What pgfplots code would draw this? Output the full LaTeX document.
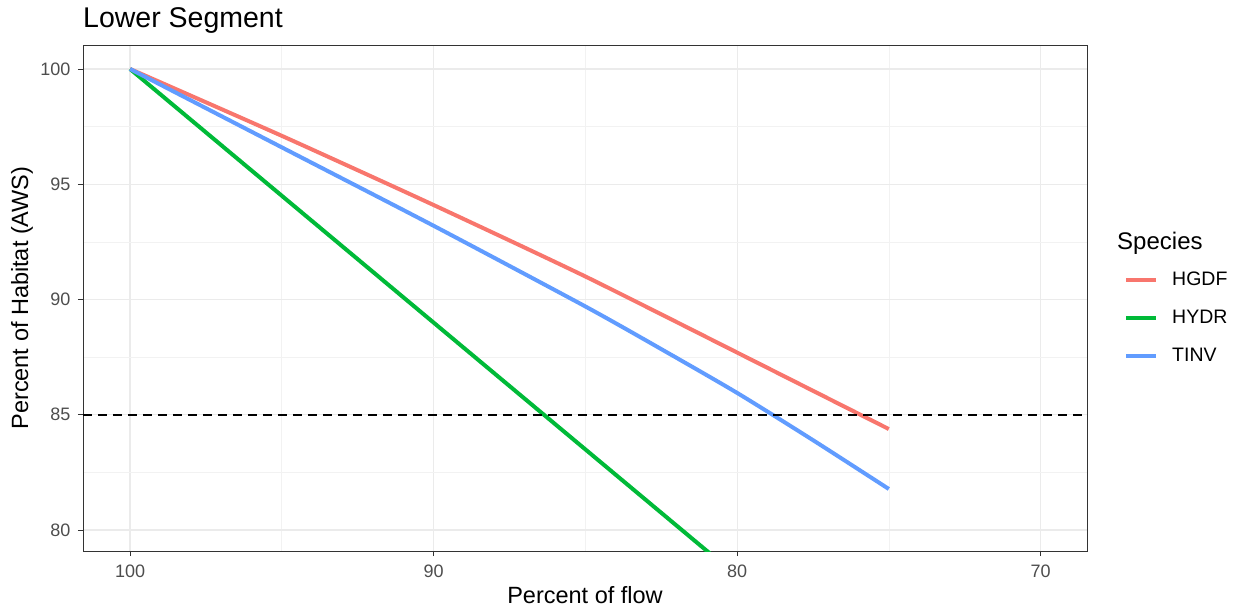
\documentclass[border=0pt]{standalone}
\usepackage{fontspec}
\setmainfont{Liberation Sans}
\usepackage{pgfplots}
\pgfplotsset{compat=1.18}
\definecolor{cHGDF}{HTML}{F8766D}
\definecolor{cHYDR}{HTML}{00BA38}
\definecolor{cTINV}{HTML}{619CFF}
\definecolor{gridmaj}{HTML}{EBEBEB}
\definecolor{gridmin}{HTML}{F2F2F2}
\definecolor{frame}{HTML}{333333}
\definecolor{ticklab}{HTML}{4D4D4D}
\begin{document}
\begin{tikzpicture}[x=1pt,y=1pt]
\useasboundingbox (-83,-60) rectangle (1155,551);
\begin{axis}[name=ax,
  at={(0,0)}, anchor=south west, scale only axis,
  width=1004pt, height=506pt,
  x dir=reverse,
  xmin=68.47, xmax=101.55, ymin=79.09, ymax=101.04,
  xtick={70,80,90,100}, ytick={80,85,90,95,100},
  minor xtick={75,85,95}, minor ytick={82.5,87.5,92.5,97.5},
  grid=both,
  major grid style={color=gridmaj, line width=1.1pt},
  minor grid style={color=gridmin, line width=0.6pt},
  axis line style={frame, line width=0.8pt},
  tick align=outside, tick pos=left,
  major tick length=5pt, minor tick length=0pt,
  tick style={frame, line width=0.8pt},
  ticklabel style={font=\fontsize{18}{20}\selectfont, text=ticklab},
  xticklabel style={yshift=-5pt},
  yticklabel style={xshift=-4pt},
  /pgf/number format/assume math mode=true,
  xlabel={Percent of flow},
  ylabel={Percent of Habitat (AWS)},
  label style={font=\fontsize{23.5}{26}\selectfont},
  xlabel style={at={(axis description cs:0.5,0)}, anchor=base, yshift=-52pt},
  ylabel style={at={(axis description cs:-0.0608,0.5)}, anchor=center},
  legend style={at={(axis description cs:1,0.5)}, anchor=west, xshift=37pt, yshift=-19.5pt,
    draw=none, fill=none, inner sep=0pt, font=\fontsize{19.5}{22}\selectfont,
    /tikz/column sep=12pt, /tikz/row sep=19pt, cells={anchor=west}},
  legend image code/.code={\draw[#1] (0pt,0pt) -- (30pt,0pt);},
]
\addplot[cHGDF, line width=4pt, smooth, tension=0.4] coordinates {(100,100) (95,97.1) (90,94.1) (85,91.0) (80,87.7) (75,84.38)};
\addlegendentry{HGDF}
\addplot[cHYDR, line width=4pt] coordinates {(100,100) (95,94.5) (90,89.0) (85,83.5) (80,78.0) (75,72.5)};
\addlegendentry{HYDR}
\addplot[cTINV, line width=4pt, smooth, tension=0.4] coordinates {(100,100) (95,96.6) (90,93.2) (85,89.7) (82.5,87.85) (80,85.95) (77.5,83.9) (75,81.78)};
\addlegendentry{TINV}
\addplot[black, line width=1.5pt, dash pattern=on 9pt off 6pt, forget plot] coordinates {(101.55,85) (68.47,85)};
\end{axis}
\node[anchor=base west, inner sep=0pt, font=\fontsize{28.5}{32}\selectfont] at ([yshift=17pt]ax.north west) {Lower Segment};
\node[anchor=base west, inner sep=0pt, font=\fontsize{24}{28}\selectfont] at ([xshift=30pt, yshift=49pt]ax.east) {Species};
\end{tikzpicture}
\end{document}
